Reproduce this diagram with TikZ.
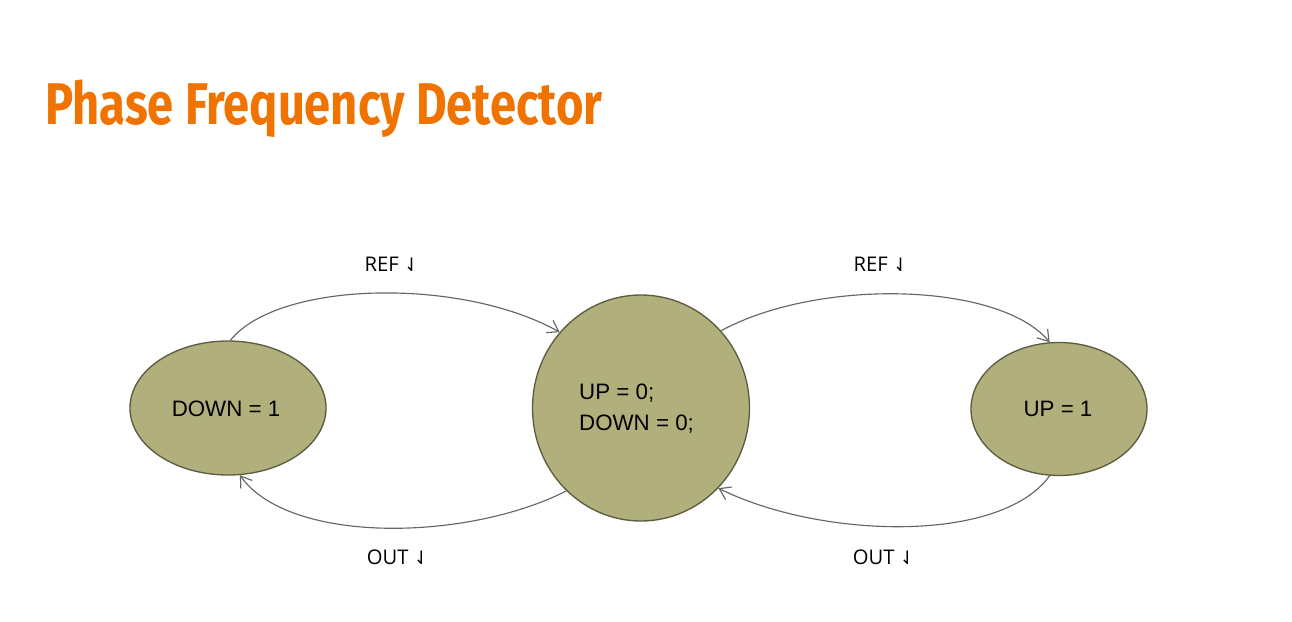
\documentclass[tikz,border=0pt]{standalone}
\usepackage{fontspec}
\usetikzlibrary{shapes.geometric,arrows.meta}
\setmainfont{Liberation Sans}
\newfontfamily\titlefont[FakeStretch=0.80]{Fira Sans}
\newfontfamily\lblfont{Open Sans}
\newfontfamily\symfont{DejaVu Sans}
\definecolor{titleorange}{HTML}{F07300}
\definecolor{statefill}{HTML}{B1AF7B}
\definecolor{stateborder}{HTML}{5B5B3F}
\definecolor{edgegray}{HTML}{666666}
\tikzset{
  state/.style={ellipse, draw=stateborder, fill=statefill, line width=0.75pt, inner sep=0pt},
  trans/.style={draw=edgegray, line width=0.65pt, -{Straight Barb[length=6pt,width=8pt]}},
  lbl/.style={font=\lblfont\fontsize{11.5}{13}\selectfont, text=black},
  statetxt/.style={font=\fontsize{12.7}{17.5}\selectfont, text=black}
}
\newcommand{\harp}{{\symfont\fontsize{10.5}{12}\selectfont ⇃}}
\begin{document}
\begin{tikzpicture}[x=0.02cm,y=-0.02cm]
\useasboundingbox[fill=white] (0,0) rectangle (1292,622);
\node[anchor=base west, inner sep=0pt, text=titleorange, font=\titlefont\bfseries\fontsize{33.5}{40}\selectfont] (title) at (45,124) {Phase Frequency Detector};
\node[state, minimum width=196*0.02cm, minimum height=134*0.02cm] (L) at (228,408) {};
\node[statetxt] (Ltxt) at (226,409) {DOWN = 1};
\node[state, minimum width=217*0.02cm, minimum height=226*0.02cm] (M) at (641,408) {};
\node[statetxt, align=left, anchor=west] (Mtxt) at (573,409) {UP = 0;\\DOWN = 0;};
\node[state, minimum width=176*0.02cm, minimum height=133*0.02cm] (R) at (1059,409) {};
\node[statetxt] (Rtxt) at (1058,409) {UP = 1};
\draw[trans] (L.88) .. controls +(48,-60) and +(-98,-55) .. (M.137);
\draw[trans] (M.44) .. controls +(98,-53) and +(-50,-60) .. (R.98);
\draw[trans] (R.262) .. controls +(-50,69) and +(100,50) .. (M.314);
\draw[trans] (M.228) .. controls +(-98,50) and +(50,70) .. (L.280);
\node[lbl] (ref1) at (392,264) {REF \harp};
\node[lbl] (ref2) at (881,264) {REF \harp};
\node[lbl] (out1) at (398,557) {OUT \harp};
\node[lbl] (out2) at (884,557) {OUT \harp};
\end{tikzpicture}
\end{document}
